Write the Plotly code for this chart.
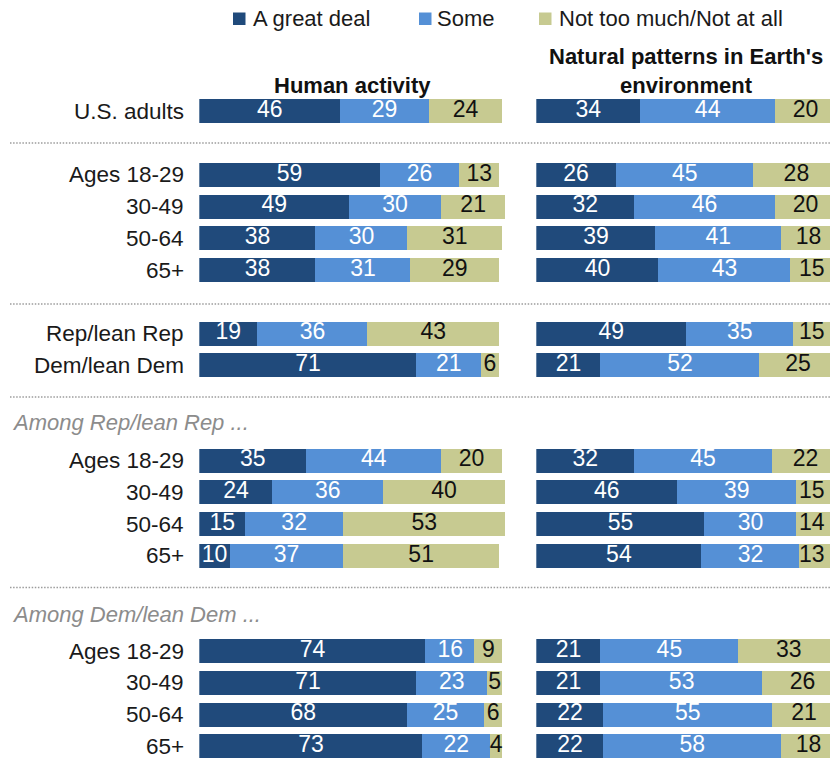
import plotly.graph_objects as go

# ---- Data -------------------------------------------------------------
row_labels = [
    "U.S. adults",
    "Ages 18-29", "30-49", "50-64", "65+",
    "Rep/lean Rep", "Dem/lean Dem",
    "Ages 18-29", "30-49", "50-64", "65+",
    "Ages 18-29", "30-49", "50-64", "65+",
]
series_names = ["A great deal", "Some", "Not too much/Not at all"]

human_great = [46, 59, 49, 38, 38, 19, 71, 35, 24, 15, 10, 74, 71, 68, 73]
human_some = [29, 26, 30, 30, 31, 36, 21, 44, 36, 32, 37, 16, 23, 25, 22]
human_not = [24, 13, 21, 31, 29, 43, 6, 20, 40, 53, 51, 9, 5, 6, 4]

natural_great = [34, 26, 32, 39, 40, 49, 21, 32, 46, 55, 54, 21, 21, 22, 22]
natural_some = [44, 45, 46, 41, 43, 35, 52, 45, 39, 30, 32, 45, 53, 55, 58]
natural_not = [20, 28, 20, 18, 15, 15, 25, 22, 15, 14, 13, 33, 26, 21, 18]

panel_titles = ["<b>Human activity</b>", "<b>Natural patterns in Earth's<br>environment</b>"]
subheads = ["Among Rep/lean Rep ...", "Among Dem/lean Dem ..."]

# ---- Styling / layout constants -------------------------------------------
W, H = 837, 760
FONT = "Liberation Sans, Arial, sans-serif"
colors = ["#204a7b", "#5590d6", "#c7ca91"]
text_colors = ["white", "white", "#111111"]
PX_PER_PT = 3.06

ROW0, PITCH = 111.3, 31.75
row_slots = [0, 2, 3, 4, 5, 7, 8, 11, 12, 13, 14, 17, 18, 19, 20]
row_y = [ROW0 + PITCH * s for s in row_slots]
sep_y = [ROW0 + PITCH * s for s in (1, 6.07, 9, 15)]
subhead_y = [sep_y[2] + 25, sep_y[3] + 26.5]

left_x0 = 199.3
right_x0, right_clip = 536.3, 830.0
left_range = 100
right_range = (right_clip - right_x0) / PX_PER_PT

fig = go.Figure()


def add_panel(series, xaxis, label_cap):
    base = [0] * len(row_y)
    for vals, name, col, tcol in zip(series, series_names, colors, text_colors):
        fig.add_trace(go.Bar(
            y=row_y, x=vals, base=base, orientation="h", width=24,
            marker=dict(color=col, line=dict(width=0)),
            name=name, xaxis=xaxis, yaxis="y", hoverinfo="skip",
            showlegend=False,
        ))
        mids = [min(b + v / 2, label_cap) for b, v in zip(base, vals)]
        fig.add_trace(go.Scatter(
            y=row_y, x=mids, mode="text", text=[str(v) for v in vals],
            textposition="middle center",
            textfont=dict(family=FONT, size=23, color=tcol),
            xaxis=xaxis, yaxis="y", hoverinfo="skip", showlegend=False,
            cliponaxis=False,
        ))
        base = [b + v for b, v in zip(base, vals)]


add_panel([human_great, human_some, human_not], "x", 1000)
add_panel([natural_great, natural_some, natural_not], "x2", 90.0)

annotations = []
# row labels
for lab, y in zip(row_labels, row_y):
    annotations.append(dict(
        x=186 / W, xref="paper", y=y, yref="y", text=lab, showarrow=False,
        xanchor="right", yanchor="middle",
        font=dict(family=FONT, size=22.5, color="#1a1a1a"),
    ))
# group sub-headers
for txt, y in zip(subheads, subhead_y):
    annotations.append(dict(
        x=10 / W, xref="paper", y=y, yref="y", text=f"<i>{txt}</i>",
        showarrow=False, xanchor="left", yanchor="middle",
        font=dict(family=FONT, size=22, color="#8c8c8c"),
    ))
# panel titles
left_center = (left_x0 + left_x0 + left_range * PX_PER_PT) / 2
right_center = 686
annotations.append(dict(
    x=left_center / W, xref="paper", y=85.5, yref="y", text=panel_titles[0],
    showarrow=False, xanchor="center", yanchor="middle",
    font=dict(family=FONT, size=22, color="#111111"),
))
annotations.append(dict(
    x=right_center / W, xref="paper", y=71, yref="y", text=panel_titles[1],
    showarrow=False, xanchor="center", yanchor="middle",
    font=dict(family=FONT, size=22, color="#111111"),
))

shapes = []
# dotted separators
for y in sep_y:
    shapes.append(dict(
        type="line", xref="paper", yref="y", x0=10 / W, x1=830 / W, y0=y, y1=y,
        line=dict(color="#9c9c9c", width=1.5, dash="1.5px,1.6px"),
    ))

# legend
legend_items = [(233, 251), (419, 435), (539, 557)]
for (sx, tx), name, col in zip(legend_items, series_names, colors):
    shapes.append(dict(
        type="rect", xref="paper", yref="y", x0=sx / W, x1=(sx + 12.5) / W,
        y0=12.5, y1=25, fillcolor=col, line=dict(width=0),
    ))
    annotations.append(dict(
        x=tx / W, xref="paper", y=18.5, yref="y", text=name, showarrow=False,
        xanchor="left", yanchor="middle",
        font=dict(family=FONT, size=22, color="#1a1a1a"),
    ))

fig.update_layout(
    width=W, height=H,
    margin=dict(l=0, r=0, t=0, b=0, pad=0),
    paper_bgcolor="white", plot_bgcolor="white",
    barmode="overlay", bargap=0,
    showlegend=False,
    xaxis=dict(domain=[left_x0 / W, (left_x0 + left_range * PX_PER_PT) / W],
               range=[0, left_range], visible=False, fixedrange=True),
    xaxis2=dict(domain=[right_x0 / W, right_clip / W], range=[0, right_range],
                visible=False, fixedrange=True, anchor="y"),
    yaxis=dict(domain=[0, 1], range=[H, 0], visible=False, fixedrange=True),
    annotations=annotations,
    shapes=shapes,
)

fig.write_html("out.html")
